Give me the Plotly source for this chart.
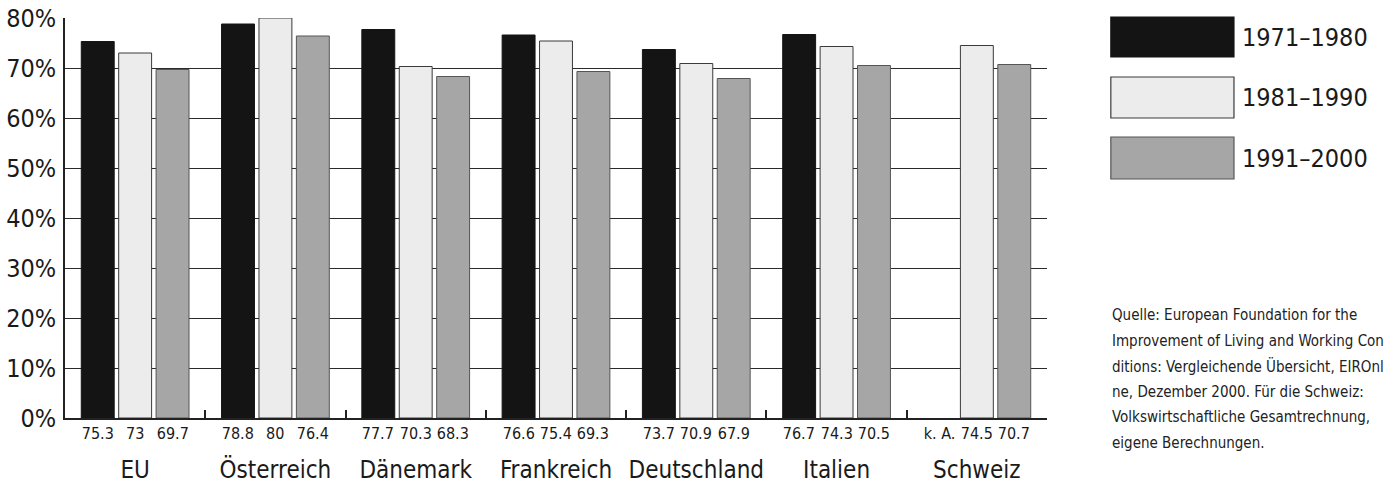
import plotly.graph_objects as go

# Erwerbsquote nach Land und Jahrzehnt (in %)
laender = ["EU", "Österreich", "Dänemark", "Frankreich", "Deutschland", "Italien", "Schweiz"]
perioden = ["1971–1980", "1981–1990", "1991–2000"]
werte_1971_1980 = [75.3, 78.8, 77.7, 76.6, 73.7, 76.7, None]
werte_1981_1990 = [73.0, 80.0, 70.3, 75.4, 70.9, 74.3, 74.5]
werte_1991_2000 = [69.7, 76.4, 68.3, 69.3, 67.9, 70.5, 70.7]
y_ticks = [0, 10, 20, 30, 40, 50, 60, 70, 80]
y_ticktext = [f"{t}%" for t in y_ticks]

serien = [werte_1971_1980, werte_1981_1990, werte_1991_2000]
farben = ["#141414", "#ececec", "#a6a6a6"]
rahmen = ["#141414", "#3a3a3a", "#555555"]

FAMILY = "DejaVu Sans"


def cfont(size, color="#1a1a1a"):
    return dict(family=FAMILY, size=size, color=color)


fig = go.Figure()
for name, werte, farbe, linie in zip(perioden, serien, farben, rahmen):
    fig.add_trace(go.Bar(
        x=laender, y=werte, name=name,
        marker=dict(color=farbe, line=dict(color=linie, width=1)),
        cliponaxis=False, showlegend=False,
    ))

# Zahlenwerte unter den Säulen
BAR_SLOT = 982 / 7 * 0.8 / 3
annotations = []
for i, werte in enumerate(serien):
    for land, v in zip(laender, werte):
        txt = "k. A." if v is None else f"{v:g}"
        annotations.append(dict(
            x=land, xref="x", y=0, yref="y", text=txt, showarrow=False,
            yanchor="top", yshift=-4, xshift=(i - 1) * BAR_SLOT,
            font=cfont(16),
        ))

# Legende
legend_boxes = [(1.0025, 0.9025), (0.8525, 0.75), (0.7025, 0.5975)]
shapes = []
for (y1, y0), name, farbe, linie in zip(legend_boxes, perioden, farben, rahmen):
    shapes.append(dict(type="rect", xref="paper", yref="paper",
                       x0=1.065, x1=1.1904, y0=y0, y1=y1,
                       fillcolor=farbe, line=dict(color=linie, width=1.2)))
    annotations.append(dict(x=1.1965, xref="paper", y=(y0 + y1) / 2, yref="paper",
                            text=name, showarrow=False, xanchor="left", yanchor="middle",
                            align="left", font=cfont(25)))

# Quellenangabe
quelle = [
    "Quelle: European Foundation for the",
    "Improvement of Living and Working Con-",
    "ditions: Vergleichende Übersicht, EIROnli-",
    "ne, Dezember 2000. Für die Schweiz:",
    "Volkswirtschaftliche Gesamtrechnung,",
    "eigene Berechnungen.",
]
for k, zeile in enumerate(quelle):
    annotations.append(dict(x=1.0642, xref="paper", y=(418 - 315 - k * 25.6) / 400, yref="paper",
                            text=zeile, showarrow=False, xanchor="left", yanchor="middle",
                            align="left", font=cfont(15, "#222")))

fig.update_layout(
    width=1384, height=486,
    margin=dict(l=65, r=337, t=18, b=68),
    paper_bgcolor="white", plot_bgcolor="white",
    barmode="group", bargap=0.2, bargroupgap=0.12,
    shapes=shapes, annotations=annotations,
    xaxis=dict(
        showline=True, linecolor="#222", linewidth=1.5,
        ticks="inside", tickson="boundaries", ticklen=8, tickcolor="#222", tickwidth=1.5,
        tickfont=cfont(24), tickangle=0,
        ticklabelstandoff=29, automargin=False,
    ),
    yaxis=dict(
        range=[0, 80], tickmode="array", tickvals=y_ticks, ticktext=y_ticktext,
        showline=True, linecolor="#222", linewidth=1.5,
        showgrid=True, gridcolor="#2a2a2a", gridwidth=1.4, zeroline=False,
        tickfont=cfont(25),
        ticks="", ticklabelstandoff=2, automargin=False,
    ),
)

# Schmale Schriftbreite für alle Beschriftungen
condense = """
var st = document.createElement('style');
st.textContent = 'svg text { font-stretch: condensed !important; }';
document.head.appendChild(st);
"""
fig.write_html("out.html", post_script=condense)
